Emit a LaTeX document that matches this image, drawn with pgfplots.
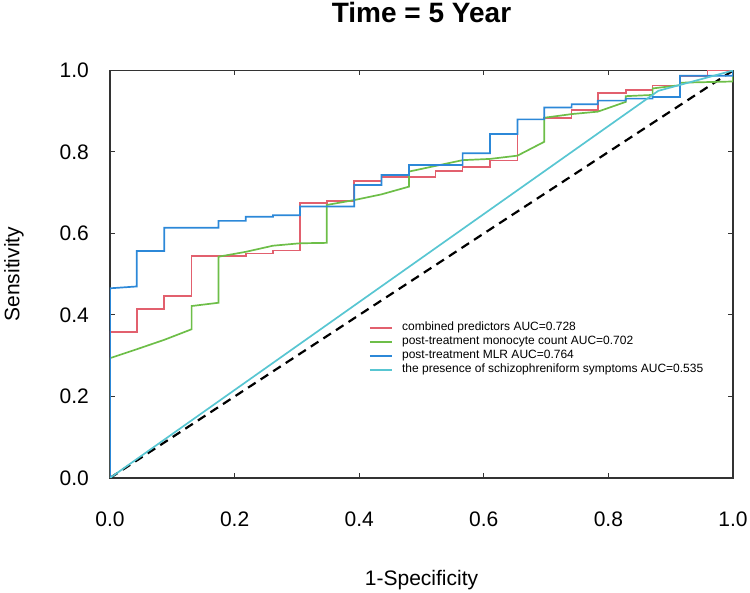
\documentclass[border=0pt]{standalone}
\usepackage{fontspec}
\setmainfont{Liberation Sans}
\usepackage{pgfplots}
\pgfplotsset{compat=1.18}
\definecolor{cred}{HTML}{E2606E}
\definecolor{cgreen}{HTML}{6DBE48}
\definecolor{cblue}{HTML}{2C88D8}
\definecolor{ccyan}{HTML}{58C6D2}
\definecolor{axgray}{HTML}{333333}
\begin{document}
\begin{tikzpicture}[x=1pt,y=1pt]
\useasboundingbox (0,0) rectangle (750,593);
\begin{axis}[
  at={(110pt,115pt)}, anchor=south west,
  scale only axis, width=623pt, height=407.5pt,
  xmin=0, xmax=1, ymin=0, ymax=1,
  axis line style={axgray, line width=1.6pt},
  xtick={0,0.2,...,1}, ytick={0,0.2,...,1},
  tick align=inside, major tick length=5pt,
  tick style={axgray, line width=1pt},
  xticklabel style={font=\fontsize{21}{21}\selectfont, inner sep=0pt, anchor=north, yshift=-34pt},
  yticklabel style={font=\fontsize{21}{21}\selectfont, inner sep=0pt, anchor=east, xshift=-21pt},
  /pgf/number format/.cd, fixed, fixed zerofill, precision=1, assume math mode=true,
  /pgfplots/.cd,
  xlabel={1-Specificity}, ylabel={Sensitivity},
  xlabel style={font=\fontsize{21}{21}\selectfont, at={(rel axis cs:0.5,0)}, anchor=north, inner sep=0pt, yshift=-92pt},
  ylabel style={font=\fontsize{21}{21}\selectfont, at={(rel axis cs:0,0.5)}, anchor=center, inner sep=0pt, yshift=96pt},
  title={\textbf{Time = 5 Year}},
  title style={font=\fontsize{28}{28}\selectfont, at={(rel axis cs:0.5,1)}, anchor=base, inner sep=0pt, yshift=42pt},
  legend style={draw=none, fill=none, at={(rel axis cs:0.415,0.386)}, anchor=north west,
    font=\fontsize{12}{12}\selectfont, row sep=0pt, inner sep=0pt,
    nodes={inner sep=1pt, text height=9pt, text depth=3pt},
    /tikz/every odd column/.append style={column sep=8pt}},
  legend cell align=left,
  legend image code/.code={\draw[#1, line width=2.4pt] (0pt,0pt) -- (22pt,0pt);},
]
\addplot[black, dashed, line width=2.2pt, dash pattern=on 9pt off 6pt, forget plot] coordinates {(0,0) (1,1)};
\addplot[cred, line width=1.7pt] coordinates {
(0,0) (0,0.359) (0.043,0.359) (0.043,0.4155) (0.087,0.4155) (0.087,0.446) (0.131,0.446) (0.131,0.545)
(0.218,0.545) (0.218,0.551) (0.2615,0.551) (0.2615,0.558) (0.305,0.558) (0.305,0.674) (0.348,0.674)
(0.348,0.680) (0.392,0.680) (0.392,0.7296) (0.4357,0.7296) (0.4357,0.738) (0.5225,0.738) (0.5225,0.753)
(0.566,0.753) (0.566,0.764) (0.61,0.764) (0.61,0.779) (0.654,0.779) (0.654,0.880) (0.697,0.880)
(0.697,0.884) (0.741,0.884) (0.741,0.903) (0.783,0.903) (0.783,0.944) (0.828,0.944) (0.828,0.952)
(0.871,0.952) (0.871,0.963) (0.915,0.963) (0.915,0.986) (0.959,0.986) (0.959,1.0) (1,1)};
\addlegendentry{combined predictors AUC=0.728}
\addplot[cgreen, line width=1.7pt] coordinates {
(0,0) (0,0.294) (0.043,0.316) (0.087,0.339) (0.131,0.365) (0.131,0.422) (0.174,0.43) (0.174,0.543)
(0.218,0.555) (0.2615,0.570) (0.305,0.576) (0.348,0.577) (0.348,0.67) (0.392,0.682) (0.4357,0.696)
(0.48,0.715) (0.48,0.752) (0.566,0.780) (0.61,0.783) (0.654,0.791) (0.697,0.825) (0.697,0.884)
(0.741,0.893) (0.783,0.899) (0.828,0.923) (0.828,0.937) (0.871,0.94) (0.871,0.956) (0.915,0.964)
(0.915,0.97) (1,0.973) (1,1)};
\addlegendentry{post-treatment monocyte count AUC=0.702}
\addplot[cblue, line width=1.7pt] coordinates {
(0,0) (0,0.4655) (0.043,0.47) (0.043,0.557) (0.087,0.557) (0.087,0.614) (0.174,0.614) (0.174,0.631)
(0.218,0.631) (0.218,0.641) (0.2615,0.641) (0.2615,0.645) (0.305,0.645) (0.305,0.666) (0.392,0.666)
(0.392,0.719) (0.4357,0.719) (0.4357,0.7436) (0.48,0.7436) (0.48,0.768) (0.566,0.768) (0.566,0.797)
(0.61,0.797) (0.61,0.844) (0.654,0.844) (0.654,0.880) (0.697,0.880) (0.697,0.909) (0.741,0.909)
(0.741,0.917) (0.783,0.917) (0.783,0.926) (0.828,0.926) (0.828,0.931) (0.871,0.931) (0.871,0.935)
(0.915,0.935) (0.915,0.987) (1,0.987) (1,1)};
\addlegendentry{post-treatment MLR AUC=0.764}
\addplot[ccyan, line width=1.7pt] coordinates {(0,0) (0.88,0.95) (1,1)};
\addlegendentry{the presence of schizophreniform symptoms AUC=0.535}
\end{axis}
\end{tikzpicture}
\end{document}
